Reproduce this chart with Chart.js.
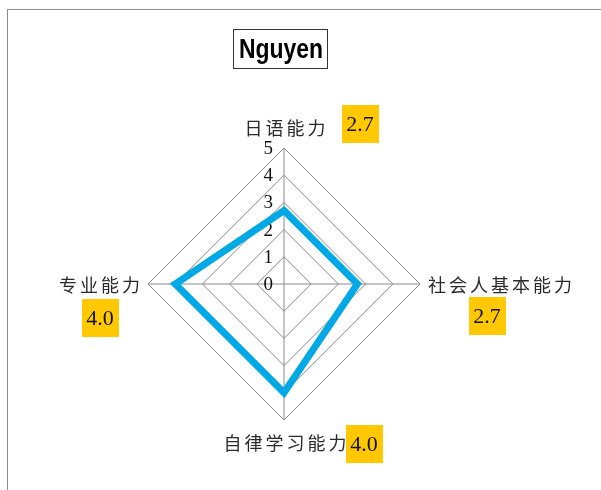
<!DOCTYPE html>
<html>
<head>
<meta charset="utf-8">
<script src="https://cdn.jsdelivr.net/npm/chart.js@4/dist/chart.umd.min.js"></script>
<style>
  html, body { margin: 0; padding: 0; background: #fff; }
  #wrap { position: relative; width: 601px; height: 490px; overflow: hidden; }
  #frame { position: absolute; left: 7px; top: 9px; width: 700px; height: 600px;
           border-left: 1px solid #8c8c8c; border-top: 1px solid #8c8c8c; }
  #radar { position: absolute; left: 0; top: 0; }
</style>
</head>
<body>
<div id="wrap">
  <div id="frame"></div>
  <canvas id="radar" width="601" height="490"></canvas>
</div>
<script>
const STUDENT = 'Nguyen';
const CATEGORIES = ['日语能力', '社会人基本能力', '自律学习能力', '专业能力'];
const SCORES = [2.7, 2.7, 4.0, 4.0];
const TICKS = [0, 1, 2, 3, 4, 5];

const LINE_COLOR = '#00a9e6';
const BOX_COLOR = '#ffc800';
const GRID_COLOR = '#8a8a8a';

// where each axis label + score box sits relative to its outer vertex
// (top, right, bottom, left)
const labelSpots = [
    { dx: 1, dy: -20, align: 'center', bx: 76, by: -24 },
    { dx: 8, dy: 1, align: 'left', bx: 67, by: 32 },
    { dx: 1, dy: 23, align: 'center', bx: 80, by: 24 },
    { dx: -8, dy: 1, align: 'right', bx: -48, by: 34 }
];

const tickLabels = {
    id: 'tickLabels',
    beforeDatasetsDraw(chart) {
        const scale = chart.scales.r;
        const ctx = chart.ctx;
        ctx.save();
        ctx.font = '19px "Liberation Serif", "DejaVu Serif", serif';
        ctx.fillStyle = '#111';
        ctx.textAlign = 'right';
        ctx.textBaseline = 'middle';
        TICKS.forEach(t => {
            const d = scale.getDistanceFromCenterForValue(t);
            ctx.fillText(String(t), scale.xCenter - 11, scale.yCenter - d + 1);
        });
        ctx.restore();
    }
};

const axisLabels = {
    id: 'axisLabels',
    afterDraw(chart) {
        const scale = chart.scales.r;
        const ctx = chart.ctx;
        ctx.save();
        CATEGORIES.forEach((name, i) => {
            const p = scale.getPointPosition(i, scale.drawingArea);
            const s = labelSpots[i];
            ctx.font = '18px "Noto Sans CJK SC", sans-serif';
            const spaced = 'letterSpacing' in ctx;
            if (spaced) ctx.letterSpacing = '3px';
            ctx.fillStyle = '#2a2a2a';
            ctx.textAlign = s.align;
            ctx.textBaseline = 'middle';
            let tx = p.x + s.dx;
            if (spaced && s.align === 'center') tx += 1.5;
            if (spaced && s.align === 'right') tx += 3;
            ctx.fillText(name, tx, p.y + s.dy);
            if (spaced) ctx.letterSpacing = '0px';

            // score box
            const cx = p.x + s.bx, cy = p.y + s.by;
            ctx.fillStyle = BOX_COLOR;
            ctx.fillRect(Math.round(cx - 18.5), Math.round(cy - 19), 37, 38);
            ctx.fillStyle = '#111';
            ctx.font = '22px "Liberation Serif", "DejaVu Serif", serif';
            ctx.textAlign = 'center';
            ctx.fillText(SCORES[i].toFixed(1), cx, cy + 1);
        });

        // boxed name title, narrow bold face
        const bx = 233, by = 29, bw = 94, bh = 39;
        ctx.strokeStyle = '#333';
        ctx.lineWidth = 1;
        ctx.strokeRect(bx + 0.5, by + 0.5, bw, bh);
        ctx.font = 'bold 28px "Liberation Sans Narrow", "Liberation Sans", Arial, sans-serif';
        const w = ctx.measureText(STUDENT).width;
        const target = 84;
        ctx.translate(bx + bw / 2 + 1, by + bh / 2 + 2);
        ctx.scale(target / w, 1);
        ctx.fillStyle = '#000';
        ctx.textAlign = 'center';
        ctx.textBaseline = 'middle';
        ctx.fillText(STUDENT, 0, 0);
        ctx.restore();
    }
};

new Chart(document.getElementById('radar'), {
    type: 'radar',
    data: {
        labels: CATEGORIES,
        datasets: [{
            label: STUDENT,
            data: SCORES,
            borderColor: LINE_COLOR,
            borderWidth: 7,
            borderJoinStyle: 'miter',
            backgroundColor: 'rgba(0,0,0,0)',
            fill: false,
            pointRadius: 0,
            pointHoverRadius: 0,
            tension: 0
        }]
    },
    options: {
        responsive: false,
        maintainAspectRatio: false,
        devicePixelRatio: 1,
        animation: false,
        layout: {
            padding: { left: 148, right: 181, top: 148, bottom: 70 }
        },
        plugins: {
            legend: { display: false },
            tooltip: { enabled: false },
            title: { display: false }
        },
        scales: {
            r: {
                min: 0,
                max: 5,
                beginAtZero: true,
                ticks: { display: false, stepSize: 1 },
                pointLabels: { display: false },
                grid: { circular: false, color: GRID_COLOR, lineWidth: 1 },
                angleLines: { display: true, color: GRID_COLOR, lineWidth: 1 }
            }
        }
    },
    plugins: [tickLabels, axisLabels]
});
</script>
</body>
</html>
